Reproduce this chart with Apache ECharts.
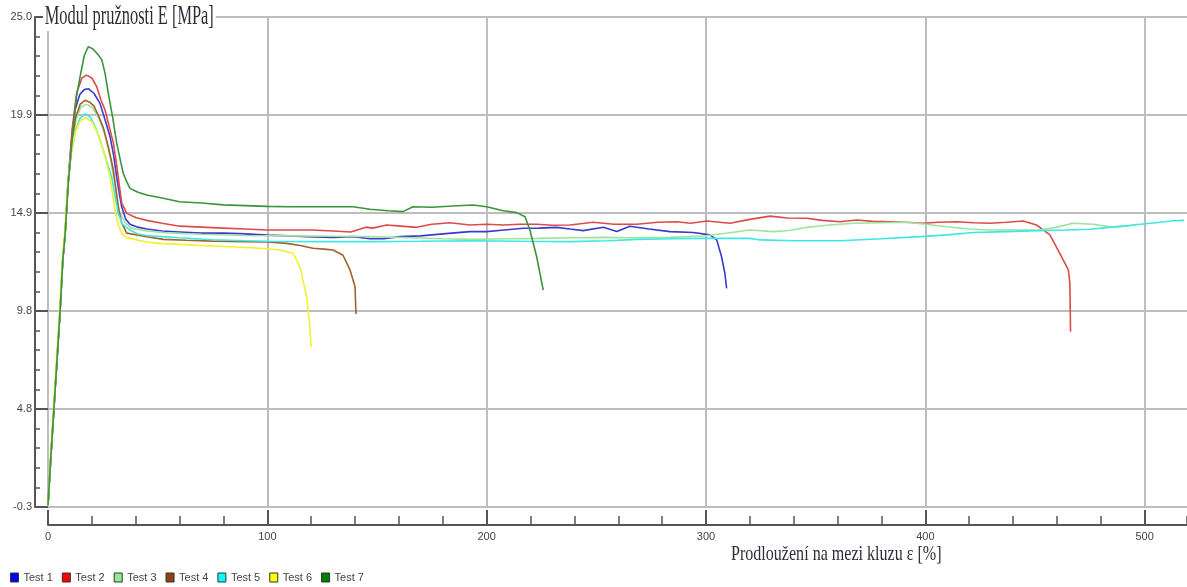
<!DOCTYPE html>
<html>
<head>
<meta charset="utf-8">
<title>Modul pružnosti E</title>
<script src="https://cdn.jsdelivr.net/npm/echarts@6/dist/echarts.min.js"></script>
<style>
  html, body { margin: 0; padding: 0; background: #ffffff; }
  #chart { width: 1187px; height: 587px; }
</style>
</head>
<body>
<div id="chart"></div>
<script>
// Measured curves: [strain ε in %, modulus E in MPa]
const test1 = [[0,-0.2],[1.3,2.3],[2.7,4.8],[4.1,7.3],[5.5,9.8],[6.7,12.4],[7.8,13.8],[9.0,16.2],[10.5,18.4],[12.3,20.2],[14.5,21.0],[16.5,21.25],[18.4,21.3],[21,21.05],[23.7,20.54],[26,19.7],[28.3,18.82],[30,17.8],[31.3,16.75],[32.5,15.9],[33.6,15.2],[35.5,14.55],[37.4,14.3],[41,14.15],[45,14.05],[52,13.95],[60,13.9],[70,13.84],[80,13.84],[90,13.8],[100,13.74],[110,13.7],[121,13.64],[130,13.62],[139,13.66],[146.8,13.55],[153,13.55],[160.5,13.66],[170,13.7],[180,13.8],[192.4,13.92],[200,13.92],[208,14.0],[216.7,14.09],[224,14.1],[231.9,14.14],[238,14.05],[244,13.97],[253.2,14.14],[259.3,13.92],[265.3,14.2],[274,14.05],[283.6,13.92],[294.2,13.87],[301.8,13.75],[304.9,13.49],[307.1,12.62],[308.6,11.77],[309.4,10.99]];
const test2 = [[0,-0.2],[1.3,2.3],[2.7,4.8],[4.1,7.3],[5.5,9.8],[6.7,12.4],[7.8,13.8],[9.3,16.6],[11.0,19.2],[13.1,21.1],[15.5,21.85],[17.6,22.0],[20,21.85],[22.2,21.4],[24.2,20.7],[26,20.2],[28,19.3],[29.8,18.5],[31,17.6],[32,16.75],[33.6,15.4],[35.9,14.86],[40,14.65],[45,14.5],[52,14.35],[60,14.2],[70,14.15],[80,14.1],[90,14.05],[100,14.0],[110,14.0],[120,14.0],[130,13.95],[138,13.9],[145,14.15],[148,14.1],[154.4,14.26],[161,14.2],[168,14.14],[175,14.3],[183.3,14.38],[192.4,14.26],[200,14.3],[207.6,14.26],[215,14.3],[222.8,14.3],[230,14.25],[238,14.26],[248.6,14.4],[258,14.3],[268.4,14.3],[278,14.4],[286.6,14.43],[293,14.35],[300.3,14.47],[311,14.35],[320,14.55],[329.2,14.72],[337,14.62],[345.9,14.61],[353,14.5],[361.1,14.43],[368.7,14.52],[376,14.45],[383.9,14.43],[391,14.4],[399,14.35],[406,14.4],[414.2,14.43],[422,14.38],[429.4,14.35],[437,14.4],[444.6,14.47],[450.7,14.26],[456.8,13.75],[461.3,12.8],[465.2,11.94],[465.9,11.25],[466.2,8.75]];
const test3 = [[0,-0.2],[1.3,2.3],[2.7,4.8],[4.1,7.3],[5.5,9.8],[6.7,12.4],[7.8,13.8],[9.0,16.2],[10.8,18.3],[12.8,19.7],[15,20.35],[17.6,20.5],[20.5,20.3],[23.5,19.7],[26,18.9],[28.5,17.7],[30.5,16.3],[32.5,15.0],[35,14.4],[38,14.1],[45,13.95],[55,13.85],[70,13.78],[90,13.72],[110,13.7],[130,13.68],[146.8,13.66],[165,13.6],[180,13.55],[192.4,13.52],[210,13.55],[222.8,13.57],[240,13.6],[253,13.62],[270,13.6],[283.6,13.62],[298.7,13.69],[310,13.85],[320,14.0],[330.7,13.92],[338,13.98],[345.9,14.14],[355,14.25],[367.2,14.35],[380,14.38],[391.5,14.4],[400,14.3],[409.7,14.17],[420,14.05],[429.4,14.0],[440,14.0],[452.1,14.0],[460,14.15],[467.3,14.35],[476.4,14.3],[485,14.15],[492,14.2],[497,14.3]];
const test4 = [[0,-0.2],[1.3,2.3],[2.7,4.8],[4.1,7.3],[5.5,9.8],[6.7,12.4],[7.8,13.8],[9.0,16.2],[10.8,18.4],[12.5,19.8],[14.7,20.5],[16.9,20.7],[19,20.6],[21,20.4],[23,19.9],[25.2,19.3],[27.5,18.3],[29.8,17.1],[31,16.1],[32,15.2],[33.5,14.4],[35.9,13.84],[45,13.65],[52.6,13.52],[63,13.47],[75,13.43],[90,13.4],[100,13.38],[108.8,13.31],[115,13.2],[120.8,13.06],[127,13.0],[130,12.97],[134.5,12.7],[137.7,11.94],[140,11.07],[140.4,9.67]];
const test5 = [[0,-0.2],[1.3,2.3],[2.7,4.8],[4.1,7.3],[5.5,9.8],[6.7,12.4],[7.8,13.8],[9.0,16.2],[10.5,17.9],[12.5,19.1],[14.5,19.75],[16.9,20.0],[19.5,19.8],[22,19.2],[25,18.2],[29,16.75],[32,14.86],[34,14.3],[37.4,14.0],[41,13.8],[45,13.72],[52,13.66],[60,13.6],[75,13.5],[90,13.45],[100,13.42],[120,13.4],[146.8,13.4],[170,13.42],[192.4,13.45],[215,13.42],[238,13.4],[255,13.45],[268.4,13.52],[285,13.55],[298.7,13.57],[310,13.57],[320,13.57],[324.6,13.49],[340,13.45],[361.1,13.45],[380,13.55],[397.6,13.66],[410,13.75],[421.9,13.87],[437,13.92],[452.1,13.97],[465,14.0],[475,14.04],[485,14.15],[494.8,14.26],[505,14.38],[513,14.48],[518,14.5]];
const test6 = [[0,-0.2],[1.2,2.4],[2.5,4.8],[3.9,7.3],[5.3,9.8],[6.5,12.4],[7.6,13.8],[8.8,16.0],[10.3,17.8],[12.3,19.0],[14.5,19.6],[16.9,19.8],[20,19.6],[23,18.9],[26,17.8],[28.3,16.75],[30.5,15.03],[32,14.3],[33.6,13.83],[35,13.65],[37.4,13.57],[45,13.38],[52,13.3],[60.2,13.26],[70,13.2],[83,13.14],[96.7,13.06],[105.8,12.97],[111.8,12.8],[114.9,12.1],[117.9,10.56],[119.4,9.0],[119.9,7.96]];
const test7 = [[0,-0.2],[1.3,2.3],[2.7,4.8],[4.1,7.3],[5.5,9.8],[6.7,12.4],[7.8,13.8],[9.3,16.5],[11.5,19.3],[13,20.9],[14.6,21.9],[16.5,23.0],[18.4,23.47],[20.5,23.35],[22.5,23.1],[24.5,22.8],[26,22.1],[27.5,21.06],[29.5,19.8],[31.3,18.5],[33,17.6],[34.3,16.93],[35.9,16.5],[37.4,16.15],[41,15.95],[45,15.81],[52,15.65],[60,15.46],[70,15.4],[80,15.3],[90,15.26],[100,15.22],[110,15.2],[120,15.2],[130,15.2],[139,15.2],[146.8,15.07],[155,15.0],[161.8,14.95],[166.4,15.2],[175,15.18],[184.6,15.24],[193.8,15.29],[200,15.2],[207.5,15.0],[213.7,14.9],[217.5,14.69],[219.7,14.0],[222.8,12.62],[225.8,10.9]];

const seriesNames = ['Test 1', 'Test 2', 'Test 3', 'Test 4', 'Test 5', 'Test 6', 'Test 7'];
const seriesData = [test1, test2, test3, test4, test5, test6, test7];
const legendColors = ['#0000ff', '#ff0000', '#90ee90', '#8b4513', '#00ffff', '#ffff00', '#008000'];
const lineColors = ['#3a3ad2', '#dc4b4b', '#9de49d', '#a0622d', '#3ee6e6', '#f2f22a', '#3b933b'];

const yMin = -0.3, yMax = 25.0, yStep = 5.06;
const xMin = 0, xMax = 519.3, xStep = 100, xMinorStep = 20;

const axisDark = '#555555';
const gridGray = '#bdbdbd';
const labelFont = 'Liberation Sans';

const chart = echarts.init(document.getElementById('chart'), null, { renderer: 'canvas' });

chart.setOption({
  animation: false,
  backgroundColor: '#ffffff',
  grid: { left: 48, right: 0, top: 17, bottom: 80, containLabel: false },
  xAxis: [
    {
      type: 'value', min: xMin, max: xMax, interval: xStep,
      position: 'bottom', offset: 18,
      axisLine: { show: true, onZero: false, lineStyle: { color: axisDark, width: 2 } },
      axisTick: { show: true, inside: true, length: 15, lineStyle: { color: axisDark, width: 2 } },
      axisLabel: { show: true, margin: 6, fontSize: 11, color: '#444', fontFamily: labelFont, showMaxLabel: false },
      splitLine: { show: true, showMaxLine: false, lineStyle: { color: gridGray, width: 2 } }
    },
    {
      // minor tick row along the strain axis
      type: 'value', min: xMin, max: xMax, interval: xMinorStep,
      position: 'bottom', offset: 18,
      axisLine: { show: false, onZero: false },
      axisTick: { show: true, inside: true, length: 9, lineStyle: { color: axisDark, width: 1.5 } },
      axisLabel: { show: false },
      splitLine: { show: false }
    }
  ],
  yAxis: {
    type: 'value', min: yMin, max: yMax, interval: yStep,
    offset: 13,
    axisLine: { show: true, onZero: false, lineStyle: { color: axisDark, width: 2 } },
    axisTick: { show: true, inside: true, length: 13, lineStyle: { color: axisDark, width: 2 } },
    minorTick: { show: true, splitNumber: 5, length: 5, lineStyle: { color: axisDark, width: 1.5 } },
    axisLabel: { margin: 3, fontSize: 11, color: '#444', fontFamily: labelFont, formatter: v => v.toFixed(1) },
    splitLine: { show: true, lineStyle: { color: gridGray, width: 2 } }
  },
  legend: {
    left: 5, top: 567,
    itemWidth: 8, itemHeight: 9, itemGap: 9,
    icon: 'rect',
    textStyle: { fontSize: 11, color: '#444', fontFamily: labelFont },
    data: seriesNames.map((n, i) => ({
      name: n,
      itemStyle: { color: legendColors[i], borderColor: '#333', borderWidth: 1 }
    }))
  },
  graphic: [
    {
      type: 'text', x: 43, y: 17, scaleX: 0.586, z: 100,
      style: {
        text: 'Modul pružnosti E [MPa]',
        font: '28px "Liberation Serif"',
        fill: '#2d2d38',
        verticalAlign: 'middle',
        backgroundColor: '#ffffff',
        padding: [0, 3, 0, 3]
      }
    },
    {
      type: 'text', x: 731, y: 554, scaleX: 0.73, z: 100,
      style: {
        text: 'Prodloužení na mezi kluzu ε [%]',
        font: '22px "Liberation Serif"',
        fill: '#2d2d38',
        verticalAlign: 'middle'
      }
    }
  ],
  series: seriesData.map((d, i) => ({
    name: seriesNames[i],
    type: 'line',
    xAxisIndex: 0,
    data: d,
    showSymbol: false,
    symbol: 'none',
    smooth: false,
    lineStyle: { color: lineColors[i], width: 1.6 },
    itemStyle: { color: lineColors[i] },
    emphasis: { disabled: true }
  }))
});
</script>
</body>
</html>
